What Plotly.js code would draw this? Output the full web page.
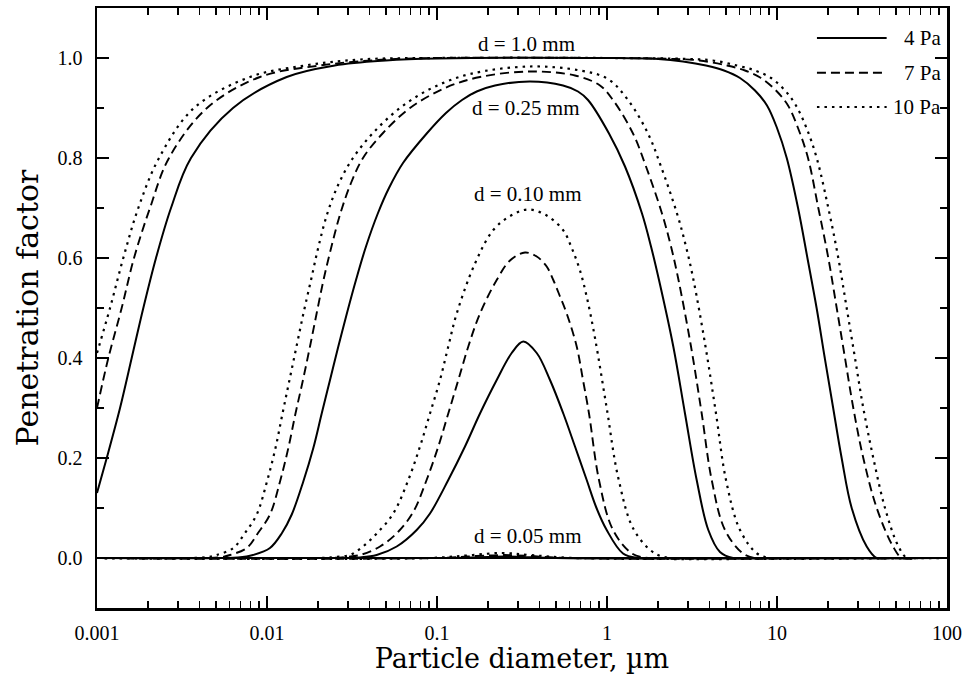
<!DOCTYPE html>
<html>
<head>
<meta charset="utf-8">
<script src="https://cdn.plot.ly/plotly-3.0.1.min.js"></script>
<style>
  html, body { margin: 0; padding: 0; background: #fff; }
  #chart { width: 973px; height: 700px; }
</style>
</head>
<body>
<div id="chart"></div>
<script>
// ---------- data (particle diameter in µm, penetration factor) ----------
const seriesNames = ["4 Pa", "7 Pa", "10 Pa"];

// d = 1.0 mm
const d100_4_x = [0.001, 0.001141, 0.001366, 0.0016, 0.001873, 0.002224, 0.002724, 0.003572, 0.00631, 0.01306, 0.025, 0.05, 0.1, 1, 2, 2.8, 3.822, 4.878, 6.059, 7.423, 8.733, 10.0, 11.41, 13.3, 15.1, 17.1, 19.1, 21.4, 24.0, 27.5, 33.7, 38.5, 45, 100];
const d100_4_y = [0.13, 0.2, 0.3, 0.4, 0.5, 0.6, 0.7, 0.8, 0.9, 0.962, 0.985, 0.995, 0.999, 1.0, 0.998, 0.993, 0.985, 0.975, 0.96, 0.935, 0.905, 0.86, 0.8, 0.7, 0.6, 0.5, 0.4, 0.3, 0.2, 0.1, 0.023, 0.0, 0.0, 0.0];

const d100_7_x = [0.001, 0.001166, 0.001397, 0.001651, 0.00205, 0.002652, 0.004437, 0.009094, 0.0205, 0.05, 0.1, 1, 2.5, 3.5, 5.081, 6.483, 8.052, 9.865, 11.61, 13.29, 15.22, 17.50, 20.04, 22.45, 25.12, 28.11, 32.18, 38.60, 48.13, 54.37, 65, 100];
const d100_7_y = [0.30, 0.4, 0.5, 0.6, 0.7, 0.8, 0.9, 0.962, 0.985, 0.997, 1.0, 1.0, 0.998, 0.995, 0.985, 0.975, 0.96, 0.935, 0.905, 0.86, 0.8, 0.7, 0.6, 0.5, 0.4, 0.3, 0.2, 0.1, 0.023, 0.0, 0.0, 0.0];

const d100_10_x = [0.001, 0.001193, 0.001428, 0.00175, 0.002316, 0.00372, 0.007943, 0.01673, 0.03525, 0.1, 1, 3.0, 4.2, 5.817, 7.423, 9.220, 11.15, 12.93, 14.91, 17.12, 20.04, 22.94, 25.70, 28.76, 32.18, 36.86, 43.18, 51.49, 58.17, 68, 100];
const d100_10_y = [0.41, 0.5, 0.6, 0.7, 0.8, 0.9, 0.962, 0.985, 0.997, 1.0, 1.0, 0.998, 0.995, 0.985, 0.975, 0.96, 0.935, 0.905, 0.86, 0.8, 0.7, 0.6, 0.5, 0.4, 0.3, 0.2, 0.1, 0.025, 0.0, 0.0, 0.0];

// d = 0.25 mm
const d025_4_x = [0.001, 0.0055, 0.00675, 0.00827, 0.01041, 0.01225, 0.01398, 0.01635, 0.01873, 0.02098, 0.02348, 0.02627, 0.02955, 0.03338, 0.03822, 0.04497, 0.05219, 0.0631, 0.087, 0.1129, 0.1403, 0.1712, 0.2194, 0.3525, 0.5511, 0.6752, 0.7731, 1.0275, 1.2761, 1.6066, 1.8151, 2.0225, 2.4547, 2.8759, 3.3695, 3.9442, 4.6196, 5.5108, 7, 100];
const d025_4_y = [0, 0, 0.001, 0.006, 0.02, 0.05, 0.087, 0.153, 0.22, 0.289, 0.356, 0.423, 0.49, 0.556, 0.623, 0.69, 0.74, 0.79, 0.849, 0.89, 0.916, 0.933, 0.945, 0.953, 0.945, 0.933, 0.916, 0.849, 0.783, 0.689, 0.623, 0.556, 0.423, 0.289, 0.156, 0.056, 0.012, 0, 0, 0];

const d025_7_x = [0.001, 0.004318, 0.005436, 0.006059, 0.007597, 0.008853, 0.01041, 0.01193, 0.01335, 0.01471, 0.01628, 0.0179, 0.01961, 0.0215, 0.02395, 0.02706, 0.0312, 0.03671, 0.04813, 0.06936, 0.1115, 0.179, 0.3525, 0.6483, 0.9095, 1.0846, 1.4219, 1.6958, 2.106, 2.38, 2.634, 3.12, 3.607, 4.13, 4.944, 6.31, 7.423, 9, 100];
const d025_7_y = [0, 0, 0.002, 0.006, 0.02, 0.05, 0.087, 0.153, 0.22, 0.289, 0.356, 0.423, 0.49, 0.556, 0.623, 0.69, 0.75, 0.80, 0.85, 0.90, 0.94, 0.962, 0.973, 0.965, 0.945, 0.916, 0.849, 0.783, 0.689, 0.623, 0.556, 0.423, 0.289, 0.156, 0.056, 0.009, 0, 0, 0];

const d025_10_x = [0.001, 0.003525, 0.004497, 0.005059, 0.006336, 0.007423, 0.008699, 0.01, 0.01122, 0.01234, 0.01356, 0.01491, 0.0164, 0.01815, 0.02009, 0.02269, 0.02652, 0.03205, 0.04202, 0.06059, 0.09346, 0.1564, 0.3525, 0.6937, 1.0137, 1.329, 1.7424, 2.0776, 2.581, 2.915, 3.227, 3.797, 4.377, 5.012, 6.059, 7.631, 9.095, 11, 100];
const d025_10_y = [0, 0, 0.002, 0.006, 0.02, 0.05, 0.087, 0.153, 0.22, 0.289, 0.356, 0.423, 0.49, 0.556, 0.623, 0.69, 0.75, 0.80, 0.85, 0.90, 0.94, 0.968, 0.983, 0.975, 0.958, 0.916, 0.849, 0.783, 0.689, 0.623, 0.556, 0.423, 0.289, 0.156, 0.056, 0.009, 0, 0, 0];

// d = 0.10 mm
const d010_4_x = [0.001, 0.02876, 0.03525, 0.04418, 0.05794, 0.07596, 0.09095, 0.1165, 0.1461, 0.179, 0.2245, 0.275, 0.3218, 0.386, 0.4621, 0.5533, 0.6483, 0.7597, 0.8674, 0.9959, 1.2424, 1.5219, 2, 100];
const d010_4_y = [0, 0, 0.001, 0.006, 0.023, 0.056, 0.089, 0.156, 0.223, 0.289, 0.356, 0.41, 0.433, 0.41, 0.356, 0.289, 0.223, 0.156, 0.10, 0.056, 0.009, 0, 0, 0];

const d010_7_x = [0.001, 0.02348, 0.02876, 0.03525, 0.04621, 0.05897, 0.07244, 0.08686, 0.1018, 0.1165, 0.1335, 0.1528, 0.179, 0.2245, 0.2688, 0.3293, 0.386, 0.4418, 0.4832, 0.5291, 0.5793, 0.6634, 0.7224, 0.7836, 0.8972, 1.0846, 1.4032, 1.7424, 2.2, 100];
const d010_7_y = [0, 0, 0.002, 0.006, 0.023, 0.052, 0.092, 0.156, 0.223, 0.289, 0.356, 0.423, 0.489, 0.556, 0.595, 0.611, 0.603, 0.583, 0.556, 0.523, 0.489, 0.423, 0.356, 0.289, 0.156, 0.056, 0.009, 0, 0, 0];

const d010_10_x = [0.001, 0.0205, 0.02512, 0.03077, 0.03671, 0.04418, 0.05532, 0.06779, 0.07943, 0.09095, 0.1041, 0.1165, 0.1306, 0.1673, 0.2144, 0.2724, 0.3444, 0.4418, 0.5511, 0.62, 0.6937, 0.7628, 0.85, 0.9959, 1.1656, 1.4414, 1.9158, 2.348, 2.8, 100];
const d010_10_y = [0, 0, 0.002, 0.006, 0.023, 0.049, 0.089, 0.156, 0.223, 0.289, 0.356, 0.423, 0.489, 0.589, 0.656, 0.685, 0.697, 0.685, 0.656, 0.62, 0.575, 0.52, 0.44, 0.30, 0.16, 0.056, 0.009, 0, 0, 0];

// d = 0.05 mm
const d005_4_x = [0.001, 0.12, 0.2, 0.25, 0.32, 0.5, 100];
const d005_4_y = [0, 0, 0.002, 0.003, 0.002, 0, 0];
const d005_7_x = [0.001, 0.1, 0.17, 0.25, 0.35, 0.6, 100];
const d005_7_y = [0, 0, 0.004, 0.006, 0.004, 0, 0];
const d005_10_x = [0.001, 0.09, 0.15, 0.24, 0.35, 0.65, 100];
const d005_10_y = [0, 0, 0.005, 0.01, 0.006, 0, 0];

// curve labels
const labelText = ["d = 1.0 mm", "d = 0.25 mm", "d = 0.10 mm", "d = 0.05 mm"];
const labelX = [0.334, 0.334, 0.345, 0.345];
const labelY = [1.028, 0.9, 0.728, 0.044];

// ticks
const xTickVals = [0.001, 0.01, 0.1, 1, 10, 100];
const xTickText = ["0.001", "0.01", "0.1", "1", "10", "100"];
const yTickVals = [0, 0.2, 0.4, 0.6, 0.8, 1.0];
const yTickText = ["0.0", "0.2", "0.4", "0.6", "0.8", "1.0"];

// ---------- styles ----------
const dashStyles = ["solid", "9px,5px", "2.5px,5px"];
const lineWidths = [2, 1.9, 2.2];

const groups = [
  [[d100_4_x, d100_4_y], [d100_7_x, d100_7_y], [d100_10_x, d100_10_y]],
  [[d025_4_x, d025_4_y], [d025_7_x, d025_7_y], [d025_10_x, d025_10_y]],
  [[d010_4_x, d010_4_y], [d010_7_x, d010_7_y], [d010_10_x, d010_10_y]],
  [[d005_4_x, d005_4_y], [d005_7_x, d005_7_y], [d005_10_x, d005_10_y]]
];

const traces = [];
groups.forEach(function (g) {
  g.forEach(function (s, i) {
    traces.push({
      type: "scatter", mode: "lines",
      x: s[0], y: s[1], name: seriesNames[i], showlegend: false,
      line: { color: "#000", width: lineWidths[i], dash: dashStyles[i], shape: "spline", smoothing: 1.0 },
      hoverinfo: "skip"
    });
  });
});

const serif = "Liberation Serif, Times New Roman, serif";
const titleSerif = "DejaVu Serif, Liberation Serif, serif";

const annotations = labelText.map(function (t, i) {
  return {
    x: Math.log10(labelX[i]), y: labelY[i], xref: "x", yref: "y",
    text: t, showarrow: false, xanchor: "center", yanchor: "middle",
    font: { family: serif, size: 21, color: "#000" },
    bgcolor: i === 1 ? "#fff" : "rgba(0,0,0,0)", borderpad: 0
  };
});

// custom legend (paper coords)
const legY = [0.95, 0.892, 0.835];
const shapes = [];
seriesNames.forEach(function (n, i) {
  shapes.push({
    type: "line", xref: "paper", yref: "paper",
    x0: 0.847, x1: 0.929, y0: legY[i], y1: legY[i],
    line: { color: "#000", width: lineWidths[i], dash: dashStyles[i] }
  });
  annotations.push({
    xref: "paper", yref: "paper", x: 0.995, y: legY[i],
    text: n, showarrow: false, xanchor: "right", yanchor: "middle",
    font: { family: serif, size: 21, color: "#000" }
  });
});

const axisCommon = {
  showgrid: false,
  showline: true, linecolor: "#000", linewidth: 2.5,
  mirror: "allticks",
  ticks: "inside", ticklen: 12, tickwidth: 2, tickcolor: "#000",
  tickfont: { family: serif, size: 20, color: "#000" }
};

const layout = {
  width: 973, height: 700,
  margin: { l: 97, r: 26, t: 8, b: 92 },
  paper_bgcolor: "#fff", plot_bgcolor: "#fff",
  showlegend: false,
  font: { family: serif, color: "#000" },
  xaxis: Object.assign({}, axisCommon, {
    type: "log", range: [-3, 2],
    tickmode: "array", tickvals: xTickVals, ticktext: xTickText,
    ticklabelstandoff: 5,
    zeroline: false,
    minor: { dtick: "D1", ticks: "inside", ticklen: 7, tickwidth: 1.5, tickcolor: "#000", showgrid: false },
    title: { text: "Particle diameter, µm", font: { family: titleSerif, size: 27, color: "#000" }, standoff: 0 }
  }),
  yaxis: Object.assign({}, axisCommon, {
    range: [-0.1, 1.1],
    tickmode: "array", tickvals: yTickVals, ticktext: yTickText,
    ticklabelstandoff: 8,
    zeroline: true, zerolinecolor: "#000", zerolinewidth: 2,
    minor: { dtick: 0.1, tick0: 0, ticks: "inside", ticklen: 7, tickwidth: 1.5, tickcolor: "#000", showgrid: false },
    title: { text: "Penetration factor", font: { family: titleSerif, size: 30, color: "#000" }, standoff: 10 }
  }),
  annotations: annotations,
  shapes: shapes
};

Plotly.newPlot("chart", traces, layout, { staticPlot: true, displayModeBar: false });
</script>
</body>
</html>
